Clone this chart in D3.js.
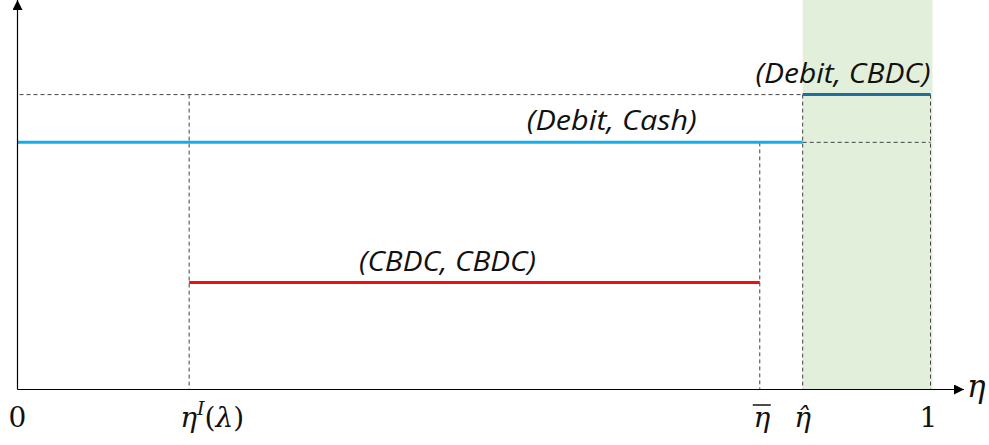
<!DOCTYPE html>
<html>
<head>
<meta charset="utf-8">
<script src="https://cdn.jsdelivr.net/npm/d3@7"></script>
<style>
  body { margin: 0; background: #fff; }
  svg { display: block; }
  .lbl { font-family: "Open Sans", "Noto Sans", sans-serif; font-style: italic; font-size: 28px; fill: #111; }
  .tick { font-family: "DejaVu Serif", "Liberation Serif", serif; font-size: 28px; fill: #111; }
</style>
</head>
<body>
<div id="chart"></div>
<script>
// Key thresholds on the eta axis (share of agents)
var etaI = 0.188;     // eta^I(lambda)
var etaBar = 0.813;   // eta bar
var etaHat = 0.860;   // eta hat

// Payoff levels of the three equilibria
var segNames = ["(Debit, CBDC)", "(Debit, Cash)", "(CBDC, CBDC)"];
var segStart = [etaHat, 0, etaI];
var segEnd = [1, etaHat, etaBar];
var segLevel = [0.772, 0.647, 0.280];
var segColor = ["#1f6e9c", "#14aee6", "#f20d0d"];

var tickVals = [0, etaI, etaBar, etaHat, 1];
var tickText = ["0", "ηI(λ)", "η", "η̂", "1"];

var width = 989, height = 445;

var x = d3.scaleLinear().domain([0, 1]).range([17.5, 930.5]);
var y = d3.scaleLinear().domain([0, 1]).range([389.5, 7.5]);

var svg = d3.select("#chart").append("svg")
	.attr("width", width)
	.attr("height", height);

var defs = svg.append("defs");
defs.append("marker")
	.attr("id", "arr")
	.attr("viewBox", "0 0 10 10")
	.attr("refX", 10).attr("refY", 5)
	.attr("markerWidth", 10).attr("markerHeight", 10)
	.attr("markerUnits", "userSpaceOnUse")
	.attr("orient", "auto")
	.append("path")
	.attr("d", "M0,0 L10,5 L0,10 z")
	.attr("fill", "#000");

// shaded region eta hat .. 1
svg.append("rect")
	.attr("x", x(etaHat))
	.attr("y", 0)
	.attr("width", x(1) - x(etaHat) + 2)
	.attr("height", y(0))
	.attr("fill", "#e2efda");

var dash = "4,3";
var g = svg.append("g")
	.attr("stroke", "#444")
	.attr("stroke-width", 1)
	.attr("stroke-dasharray", dash)
	.attr("fill", "none");

// horizontal guides
g.append("line").attr("x1", x(0) + 2).attr("x2", x(1)).attr("y1", y(segLevel[0])).attr("y2", y(segLevel[0]));
g.append("line").attr("x1", x(etaHat)).attr("x2", x(1)).attr("y1", y(segLevel[1])).attr("y2", y(segLevel[1]));

// vertical guides
var vGuides = [[etaI, segLevel[0]], [etaBar, segLevel[1]], [etaHat, segLevel[0]], [1, segLevel[0]]];
g.selectAll("line.v").data(vGuides).enter().append("line")
	.attr("class", "v")
	.attr("x1", function(d) { return x(d[0]); })
	.attr("x2", function(d) { return x(d[0]); })
	.attr("y1", function(d) { return y(d[1]); })
	.attr("y2", y(0));

// equilibrium segments
svg.selectAll("line.seg").data(segNames).enter().append("line")
	.attr("class", "seg")
	.attr("x1", function(d, i) { return x(segStart[i]); })
	.attr("x2", function(d, i) { return x(segEnd[i]); })
	.attr("y1", function(d, i) { return y(segLevel[i]); })
	.attr("y2", function(d, i) { return y(segLevel[i]); })
	.attr("stroke", function(d, i) { return segColor[i]; })
	.attr("stroke-width", 3);

// segment labels
var labX = [1, 0.744, 0.374];
var labAnchor = ["end", "end", "start"];
var labLen = [175, 170, 177];
svg.selectAll("text.lbl").data(segNames).enter().append("text")
	.attr("class", "lbl")
	.attr("x", function(d, i) { return x(labX[i]); })
	.attr("y", function(d, i) { return y(segLevel[i]) - 12; })
	.attr("text-anchor", function(d, i) { return labAnchor[i]; })
	.attr("textLength", function(d, i) { return labLen[i]; })
	.attr("lengthAdjust", "spacingAndGlyphs")
	.text(function(d) { return d; });

// axes
svg.append("line")
	.attr("x1", x(0)).attr("x2", x(0))
	.attr("y1", y(0)).attr("y2", 0)
	.attr("stroke", "#000").attr("stroke-width", 1.2)
	.attr("marker-end", "url(#arr)");
svg.append("line")
	.attr("x1", x(0)).attr("x2", 964)
	.attr("y1", y(0)).attr("y2", y(0))
	.attr("stroke", "#000").attr("stroke-width", 1.2)
	.attr("marker-end", "url(#arr)");

svg.append("text")
	.attr("class", "tick")
	.attr("x", 967)
	.attr("y", 397)
	.style("font-size", "31px")
	.style("font-style", "italic")
	.text("η");

// tick labels (small offsets match the original placement)
var tickDx = [0, 23, 2, 0, -2];
var ticks = svg.selectAll("text.t").data(tickVals).enter().append("text")
	.attr("class", "tick")
	.attr("x", function(d, i) { return x(d) + tickDx[i]; })
	.attr("y", 427)
	.attr("text-anchor", "middle");

ticks.each(function(d, i) {
	var t = d3.select(this);
	if (i == 1) {
		t.append("tspan").style("font-style", "italic").text("η");
		t.append("tspan").attr("dy", -12).attr("font-size", 19).style("font-style", "italic").text("I");
		t.append("tspan").attr("dy", 12).text("(");
		t.append("tspan").style("font-style", "italic").text("λ");
		t.append("tspan").text(")");
	} else if (i == 2 || i == 3) {
		t.style("font-style", "italic").text(tickText[i]);
	} else {
		t.text(tickText[i]);
	}
});

// bar over eta bar
svg.append("line")
	.attr("x1", x(etaBar) - 7).attr("x2", x(etaBar) + 11)
	.attr("y1", 405).attr("y2", 405)
	.attr("stroke", "#111").attr("stroke-width", 1.5);
</script>
</body>
</html>
